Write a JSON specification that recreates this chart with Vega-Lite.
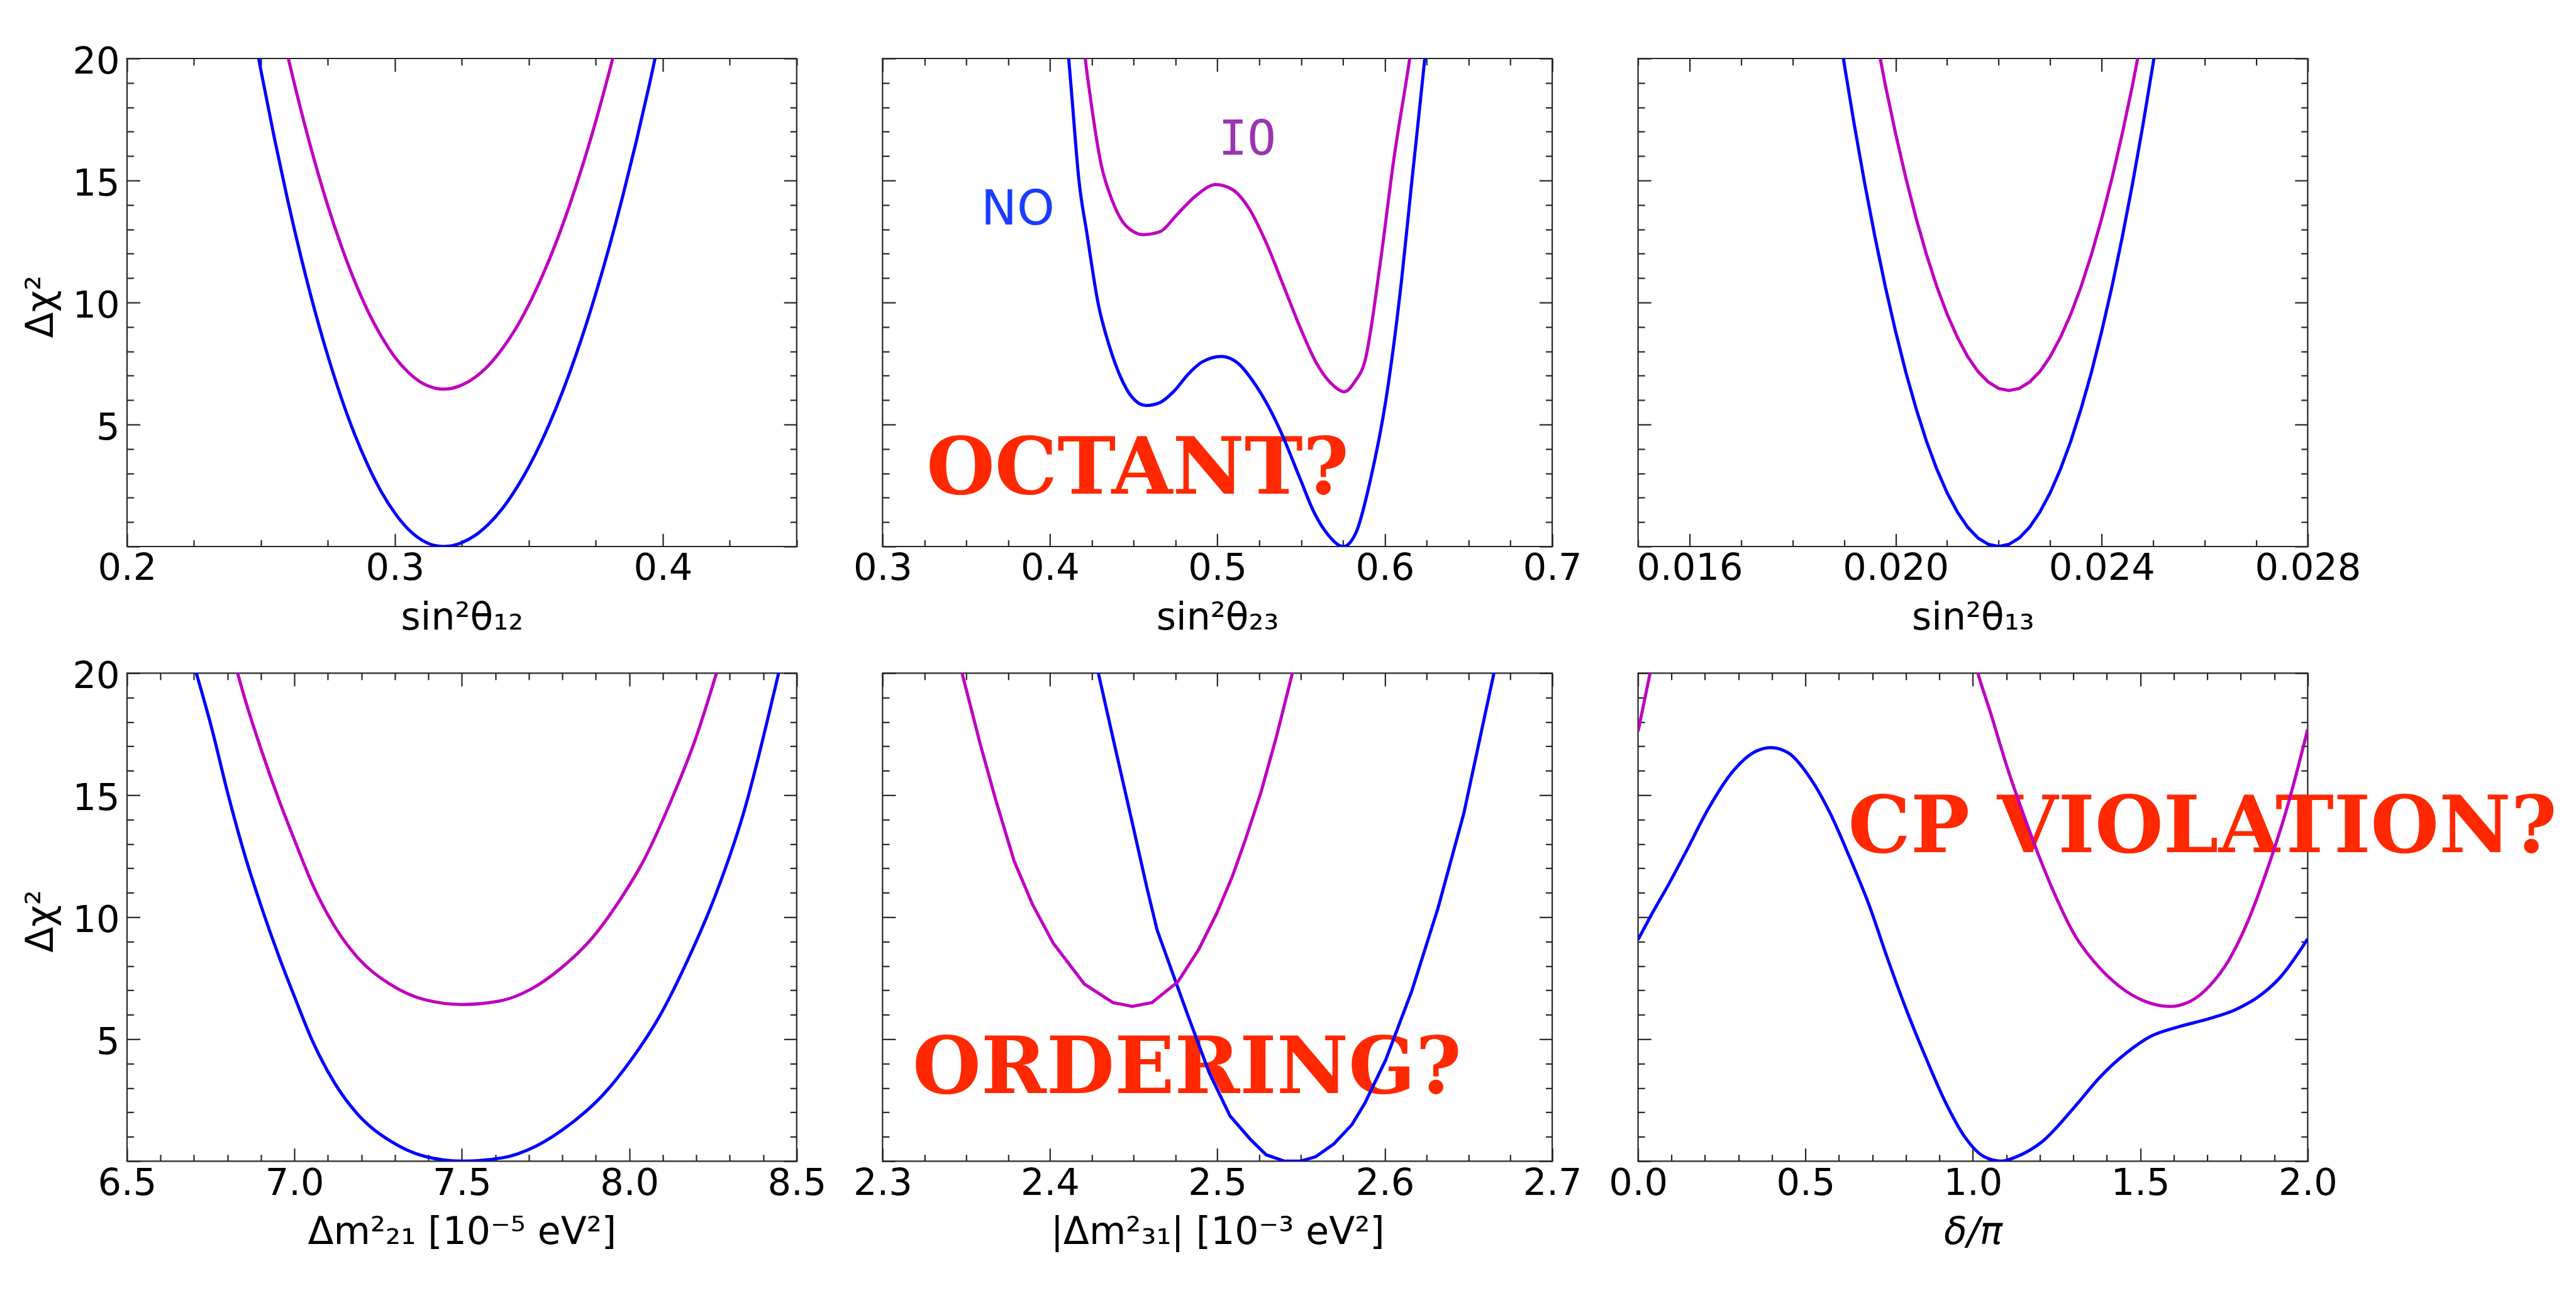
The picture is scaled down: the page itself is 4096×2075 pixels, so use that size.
{
"$schema": "https://vega.github.io/schema/vega-lite/v6.json",
"background": "#ffffff",
"padding": {"left": 33, "top": 67, "right": 0, "bottom": 0},
"datasets": {
"curves": [
{"p":"p1","o":"NO","x":0.245,"y":22.47},{"p":"p1","o":"NO","x":0.25,"y":19.5},{"p":"p1","o":"NO","x":0.255,"y":16.74},{"p":"p1","o":"NO","x":0.26,"y":14.18},{"p":"p1","o":"NO","x":0.265,"y":11.84},{"p":"p1","o":"NO","x":0.27,"y":9.71},{"p":"p1","o":"NO","x":0.275,"y":7.8},{"p":"p1","o":"NO","x":0.28,"y":6.09},{"p":"p1","o":"NO","x":0.285,"y":4.59},{"p":"p1","o":"NO","x":0.29,"y":3.31},{"p":"p1","o":"NO","x":0.295,"y":2.23},{"p":"p1","o":"NO","x":0.3,"y":1.37},{"p":"p1","o":"NO","x":0.305,"y":0.71},{"p":"p1","o":"NO","x":0.31,"y":0.27},{"p":"p1","o":"NO","x":0.315,"y":0.04},{"p":"p1","o":"NO","x":0.318,"y":0},{"p":"p1","o":"NO","x":0.32,"y":0.01},{"p":"p1","o":"NO","x":0.325,"y":0.16},{"p":"p1","o":"NO","x":0.33,"y":0.46},{"p":"p1","o":"NO","x":0.335,"y":0.92},{"p":"p1","o":"NO","x":0.34,"y":1.54},{"p":"p1","o":"NO","x":0.345,"y":2.33},{"p":"p1","o":"NO","x":0.35,"y":3.27},{"p":"p1","o":"NO","x":0.355,"y":4.37},{"p":"p1","o":"NO","x":0.36,"y":5.63},{"p":"p1","o":"NO","x":0.365,"y":7.05},{"p":"p1","o":"NO","x":0.37,"y":8.63},{"p":"p1","o":"NO","x":0.375,"y":10.37},{"p":"p1","o":"NO","x":0.38,"y":12.27},{"p":"p1","o":"NO","x":0.385,"y":14.33},{"p":"p1","o":"NO","x":0.39,"y":16.55},{"p":"p1","o":"NO","x":0.395,"y":18.93},{"p":"p1","o":"NO","x":0.4,"y":21.46},
{"p":"p1","o":"IO","x":0.255,"y":22.55},{"p":"p1","o":"IO","x":0.26,"y":20.1},{"p":"p1","o":"IO","x":0.265,"y":17.85},{"p":"p1","o":"IO","x":0.27,"y":15.8},{"p":"p1","o":"IO","x":0.275,"y":13.95},{"p":"p1","o":"IO","x":0.28,"y":12.31},{"p":"p1","o":"IO","x":0.285,"y":10.87},{"p":"p1","o":"IO","x":0.29,"y":9.63},{"p":"p1","o":"IO","x":0.295,"y":8.6},{"p":"p1","o":"IO","x":0.3,"y":7.76},{"p":"p1","o":"IO","x":0.305,"y":7.14},{"p":"p1","o":"IO","x":0.31,"y":6.71},{"p":"p1","o":"IO","x":0.315,"y":6.49},{"p":"p1","o":"IO","x":0.318,"y":6.45},{"p":"p1","o":"IO","x":0.32,"y":6.46},{"p":"p1","o":"IO","x":0.325,"y":6.62},{"p":"p1","o":"IO","x":0.33,"y":6.94},{"p":"p1","o":"IO","x":0.335,"y":7.43},{"p":"p1","o":"IO","x":0.34,"y":8.09},{"p":"p1","o":"IO","x":0.345,"y":8.91},{"p":"p1","o":"IO","x":0.35,"y":9.91},{"p":"p1","o":"IO","x":0.355,"y":11.08},{"p":"p1","o":"IO","x":0.36,"y":12.41},{"p":"p1","o":"IO","x":0.365,"y":13.92},{"p":"p1","o":"IO","x":0.37,"y":15.59},{"p":"p1","o":"IO","x":0.375,"y":17.43},{"p":"p1","o":"IO","x":0.38,"y":19.44},{"p":"p1","o":"IO","x":0.385,"y":21.62},
{"p":"p2","o":"NO","x":0.409,"y":21.5},{"p":"p2","o":"NO","x":0.4112,"y":20.0},{"p":"p2","o":"NO","x":0.413,"y":18.52},{"p":"p2","o":"NO","x":0.4172,"y":15.08},{"p":"p2","o":"NO","x":0.4222,"y":12.78},{"p":"p2","o":"NO","x":0.4289,"y":9.92},{"p":"p2","o":"NO","x":0.4356,"y":8.19},{"p":"p2","o":"NO","x":0.4423,"y":6.93},{"p":"p2","o":"NO","x":0.4489,"y":6.13},{"p":"p2","o":"NO","x":0.4573,"y":5.78},{"p":"p2","o":"NO","x":0.4657,"y":5.9},{"p":"p2","o":"NO","x":0.474,"y":6.36},{"p":"p2","o":"NO","x":0.4824,"y":7.05},{"p":"p2","o":"NO","x":0.4908,"y":7.56},{"p":"p2","o":"NO","x":0.5025,"y":7.79},{"p":"p2","o":"NO","x":0.5125,"y":7.5},{"p":"p2","o":"NO","x":0.5209,"y":6.81},{"p":"p2","o":"NO","x":0.5292,"y":5.9},{"p":"p2","o":"NO","x":0.5376,"y":4.75},{"p":"p2","o":"NO","x":0.5493,"y":2.8},{"p":"p2","o":"NO","x":0.5576,"y":1.42},{"p":"p2","o":"NO","x":0.5665,"y":0.45},{"p":"p2","o":"NO","x":0.5752,"y":0},{"p":"p2","o":"NO","x":0.583,"y":0.6},{"p":"p2","o":"NO","x":0.5913,"y":2.7},{"p":"p2","o":"NO","x":0.6006,"y":5.98},{"p":"p2","o":"NO","x":0.61,"y":10.9},{"p":"p2","o":"NO","x":0.6162,"y":15.0},{"p":"p2","o":"NO","x":0.6239,"y":20.0},{"p":"p2","o":"NO","x":0.626,"y":21.5},
{"p":"p2","o":"IO","x":0.419,"y":21.5},{"p":"p2","o":"IO","x":0.4211,"y":20.0},{"p":"p2","o":"IO","x":0.4239,"y":18.52},{"p":"p2","o":"IO","x":0.4306,"y":15.65},{"p":"p2","o":"IO","x":0.4373,"y":14.16},{"p":"p2","o":"IO","x":0.4456,"y":13.13},{"p":"p2","o":"IO","x":0.4557,"y":12.78},{"p":"p2","o":"IO","x":0.4657,"y":12.9},{"p":"p2","o":"IO","x":0.4757,"y":13.59},{"p":"p2","o":"IO","x":0.4874,"y":14.39},{"p":"p2","o":"IO","x":0.4991,"y":14.83},{"p":"p2","o":"IO","x":0.5092,"y":14.62},{"p":"p2","o":"IO","x":0.5192,"y":13.82},{"p":"p2","o":"IO","x":0.5292,"y":12.44},{"p":"p2","o":"IO","x":0.5393,"y":10.72},{"p":"p2","o":"IO","x":0.5493,"y":9.0},{"p":"p2","o":"IO","x":0.5593,"y":7.5},{"p":"p2","o":"IO","x":0.5694,"y":6.59},{"p":"p2","o":"IO","x":0.5758,"y":6.34},{"p":"p2","o":"IO","x":0.582,"y":6.75},{"p":"p2","o":"IO","x":0.5882,"y":7.62},{"p":"p2","o":"IO","x":0.5975,"y":11.72},{"p":"p2","o":"IO","x":0.6053,"y":15.82},{"p":"p2","o":"IO","x":0.6149,"y":20.0},{"p":"p2","o":"IO","x":0.617,"y":21.0},
{"p":"p3","o":"NO","x":0.0188,"y":22.54},{"p":"p3","o":"NO","x":0.019,"y":19.81},{"p":"p3","o":"NO","x":0.0192,"y":17.26},{"p":"p3","o":"NO","x":0.0194,"y":14.88},{"p":"p3","o":"NO","x":0.0196,"y":12.68},{"p":"p3","o":"NO","x":0.0198,"y":10.65},{"p":"p3","o":"NO","x":0.02,"y":8.81},{"p":"p3","o":"NO","x":0.0202,"y":7.13},{"p":"p3","o":"NO","x":0.0204,"y":5.64},{"p":"p3","o":"NO","x":0.0206,"y":4.31},{"p":"p3","o":"NO","x":0.0208,"y":3.17},{"p":"p3","o":"NO","x":0.021,"y":2.2},{"p":"p3","o":"NO","x":0.0212,"y":1.41},{"p":"p3","o":"NO","x":0.0214,"y":0.79},{"p":"p3","o":"NO","x":0.0216,"y":0.35},{"p":"p3","o":"NO","x":0.0218,"y":0.09},{"p":"p3","o":"NO","x":0.022,"y":0},{"p":"p3","o":"NO","x":0.0222,"y":0.09},{"p":"p3","o":"NO","x":0.0224,"y":0.35},{"p":"p3","o":"NO","x":0.0226,"y":0.79},{"p":"p3","o":"NO","x":0.0228,"y":1.41},{"p":"p3","o":"NO","x":0.023,"y":2.2},{"p":"p3","o":"NO","x":0.0232,"y":3.17},{"p":"p3","o":"NO","x":0.0234,"y":4.31},{"p":"p3","o":"NO","x":0.0236,"y":5.64},{"p":"p3","o":"NO","x":0.0238,"y":7.13},{"p":"p3","o":"NO","x":0.024,"y":8.81},{"p":"p3","o":"NO","x":0.0242,"y":10.65},{"p":"p3","o":"NO","x":0.0244,"y":12.68},{"p":"p3","o":"NO","x":0.0246,"y":14.88},{"p":"p3","o":"NO","x":0.0248,"y":17.26},{"p":"p3","o":"NO","x":0.025,"y":19.81},{"p":"p3","o":"NO","x":0.0252,"y":22.54},
{"p":"p3","o":"IO","x":0.0194,"y":23.44},{"p":"p3","o":"IO","x":0.0196,"y":21.1},{"p":"p3","o":"IO","x":0.0198,"y":18.92},{"p":"p3","o":"IO","x":0.02,"y":16.92},{"p":"p3","o":"IO","x":0.0202,"y":15.09},{"p":"p3","o":"IO","x":0.0204,"y":13.44},{"p":"p3","o":"IO","x":0.0206,"y":11.96},{"p":"p3","o":"IO","x":0.0208,"y":10.65},{"p":"p3","o":"IO","x":0.021,"y":9.52},{"p":"p3","o":"IO","x":0.0212,"y":8.57},{"p":"p3","o":"IO","x":0.0214,"y":7.78},{"p":"p3","o":"IO","x":0.0216,"y":7.17},{"p":"p3","o":"IO","x":0.0218,"y":6.74},{"p":"p3","o":"IO","x":0.022,"y":6.48},{"p":"p3","o":"IO","x":0.0222,"y":6.39},{"p":"p3","o":"IO","x":0.0224,"y":6.48},{"p":"p3","o":"IO","x":0.0226,"y":6.74},{"p":"p3","o":"IO","x":0.0228,"y":7.17},{"p":"p3","o":"IO","x":0.023,"y":7.78},{"p":"p3","o":"IO","x":0.0232,"y":8.57},{"p":"p3","o":"IO","x":0.0234,"y":9.52},{"p":"p3","o":"IO","x":0.0236,"y":10.65},{"p":"p3","o":"IO","x":0.0238,"y":11.96},{"p":"p3","o":"IO","x":0.024,"y":13.44},{"p":"p3","o":"IO","x":0.0242,"y":15.09},{"p":"p3","o":"IO","x":0.0244,"y":16.92},{"p":"p3","o":"IO","x":0.0246,"y":18.92},{"p":"p3","o":"IO","x":0.0248,"y":21.1},{"p":"p3","o":"IO","x":0.025,"y":23.44},
{"p":"p4","o":"NO","x":6.68,"y":21.3},{"p":"p4","o":"NO","x":6.707,"y":20.0},{"p":"p4","o":"NO","x":6.752,"y":17.79},{"p":"p4","o":"NO","x":6.803,"y":14.96},{"p":"p4","o":"NO","x":6.853,"y":12.48},{"p":"p4","o":"NO","x":6.903,"y":10.35},{"p":"p4","o":"NO","x":6.953,"y":8.41},{"p":"p4","o":"NO","x":7.003,"y":6.64},{"p":"p4","o":"NO","x":7.053,"y":4.95},{"p":"p4","o":"NO","x":7.12,"y":3.2},{"p":"p4","o":"NO","x":7.187,"y":1.95},{"p":"p4","o":"NO","x":7.287,"y":0.82},{"p":"p4","o":"NO","x":7.388,"y":0.2},{"p":"p4","o":"NO","x":7.5,"y":0},{"p":"p4","o":"NO","x":7.622,"y":0.14},{"p":"p4","o":"NO","x":7.722,"y":0.62},{"p":"p4","o":"NO","x":7.822,"y":1.5},{"p":"p4","o":"NO","x":7.923,"y":2.74},{"p":"p4","o":"NO","x":8.006,"y":4.16},{"p":"p4","o":"NO","x":8.09,"y":5.93},{"p":"p4","o":"NO","x":8.174,"y":8.23},{"p":"p4","o":"NO","x":8.257,"y":10.89},{"p":"p4","o":"NO","x":8.341,"y":14.25},{"p":"p4","o":"NO","x":8.446,"y":20.0},{"p":"p4","o":"NO","x":8.47,"y":21.4},
{"p":"p4","o":"IO","x":6.803,"y":21.38},{"p":"p4","o":"IO","x":6.853,"y":18.9},{"p":"p4","o":"IO","x":6.903,"y":16.77},{"p":"p4","o":"IO","x":6.953,"y":14.83},{"p":"p4","o":"IO","x":7.003,"y":13.06},{"p":"p4","o":"IO","x":7.053,"y":11.37},{"p":"p4","o":"IO","x":7.12,"y":9.62},{"p":"p4","o":"IO","x":7.187,"y":8.37},{"p":"p4","o":"IO","x":7.287,"y":7.24},{"p":"p4","o":"IO","x":7.388,"y":6.62},{"p":"p4","o":"IO","x":7.5,"y":6.42},{"p":"p4","o":"IO","x":7.612,"y":6.56},{"p":"p4","o":"IO","x":7.705,"y":7.04},{"p":"p4","o":"IO","x":7.797,"y":7.92},{"p":"p4","o":"IO","x":7.89,"y":9.16},{"p":"p4","o":"IO","x":7.966,"y":10.58},{"p":"p4","o":"IO","x":8.044,"y":12.35},{"p":"p4","o":"IO","x":8.121,"y":14.65},{"p":"p4","o":"IO","x":8.198,"y":17.31},{"p":"p4","o":"IO","x":8.275,"y":20.67},
{"p":"p5","o":"NO","x":2.424,"y":21.5},{"p":"p5","o":"NO","x":2.4289,"y":20.0},{"p":"p5","o":"NO","x":2.4391,"y":16.9},{"p":"p5","o":"NO","x":2.4485,"y":14.07},{"p":"p5","o":"NO","x":2.4578,"y":11.24},{"p":"p5","o":"NO","x":2.464,"y":9.47},{"p":"p5","o":"NO","x":2.4733,"y":7.7},{"p":"p5","o":"NO","x":2.4826,"y":5.93},{"p":"p5","o":"NO","x":2.4951,"y":3.63},{"p":"p5","o":"NO","x":2.5075,"y":1.86},{"p":"p5","o":"NO","x":2.5199,"y":0.88},{"p":"p5","o":"NO","x":2.5292,"y":0.26},{"p":"p5","o":"NO","x":2.5401,"y":0},{"p":"p5","o":"NO","x":2.5494,"y":0},{"p":"p5","o":"NO","x":2.5587,"y":0.18},{"p":"p5","o":"NO","x":2.5696,"y":0.71},{"p":"p5","o":"NO","x":2.5804,"y":1.5},{"p":"p5","o":"NO","x":2.5882,"y":2.39},{"p":"p5","o":"NO","x":2.6006,"y":4.16},{"p":"p5","o":"NO","x":2.6162,"y":6.99},{"p":"p5","o":"NO","x":2.6317,"y":10.35},{"p":"p5","o":"NO","x":2.6472,"y":14.25},{"p":"p5","o":"NO","x":2.6652,"y":20.0},{"p":"p5","o":"NO","x":2.67,"y":21.5},
{"p":"p5","o":"IO","x":2.342,"y":21.5},{"p":"p5","o":"IO","x":2.3475,"y":20.0},{"p":"p5","o":"IO","x":2.3584,"y":17.08},{"p":"p5","o":"IO","x":2.3677,"y":14.78},{"p":"p5","o":"IO","x":2.3786,"y":12.3},{"p":"p5","o":"IO","x":2.3895,"y":10.53},{"p":"p5","o":"IO","x":2.4019,"y":8.94},{"p":"p5","o":"IO","x":2.4205,"y":7.26},{"p":"p5","o":"IO","x":2.4376,"y":6.5},{"p":"p5","o":"IO","x":2.4491,"y":6.34},{"p":"p5","o":"IO","x":2.4609,"y":6.5},{"p":"p5","o":"IO","x":2.4764,"y":7.35},{"p":"p5","o":"IO","x":2.4888,"y":8.67},{"p":"p5","o":"IO","x":2.4997,"y":10.17},{"p":"p5","o":"IO","x":2.509,"y":11.68},{"p":"p5","o":"IO","x":2.5168,"y":13.19},{"p":"p5","o":"IO","x":2.5261,"y":15.13},{"p":"p5","o":"IO","x":2.5354,"y":17.43},{"p":"p5","o":"IO","x":2.5448,"y":20.0},{"p":"p5","o":"IO","x":2.55,"y":21.5},
{"p":"p6","o":"NO","x":0,"y":9.08},{"p":"p6","o":"NO","x":0.036,"y":10.0},{"p":"p6","o":"NO","x":0.094,"y":11.41},{"p":"p6","o":"NO","x":0.142,"y":12.65},{"p":"p6","o":"NO","x":0.209,"y":14.42},{"p":"p6","o":"NO","x":0.286,"y":16.02},{"p":"p6","o":"NO","x":0.343,"y":16.73},{"p":"p6","o":"NO","x":0.397,"y":16.95},{"p":"p6","o":"NO","x":0.449,"y":16.73},{"p":"p6","o":"NO","x":0.516,"y":15.66},{"p":"p6","o":"NO","x":0.574,"y":14.25},{"p":"p6","o":"NO","x":0.631,"y":12.48},{"p":"p6","o":"NO","x":0.689,"y":10.53},{"p":"p6","o":"NO","x":0.747,"y":8.23},{"p":"p6","o":"NO","x":0.804,"y":6.11},{"p":"p6","o":"NO","x":0.862,"y":4.16},{"p":"p6","o":"NO","x":0.919,"y":2.39},{"p":"p6","o":"NO","x":0.977,"y":0.97},{"p":"p6","o":"NO","x":1.034,"y":0.18},{"p":"p6","o":"NO","x":1.085,"y":0},{"p":"p6","o":"NO","x":1.13,"y":0.18},{"p":"p6","o":"NO","x":1.207,"y":0.8},{"p":"p6","o":"NO","x":1.303,"y":2.21},{"p":"p6","o":"NO","x":1.38,"y":3.45},{"p":"p6","o":"NO","x":1.457,"y":4.42},{"p":"p6","o":"NO","x":1.533,"y":5.13},{"p":"p6","o":"NO","x":1.61,"y":5.49},{"p":"p6","o":"NO","x":1.706,"y":5.84},{"p":"p6","o":"NO","x":1.783,"y":6.2},{"p":"p6","o":"NO","x":1.86,"y":6.81},{"p":"p6","o":"NO","x":1.917,"y":7.52},{"p":"p6","o":"NO","x":2.0,"y":9.11},
{"p":"p6","o":"IO","x":0,"y":17.61},{"p":"p6","o":"IO","x":0.036,"y":20.0},{"p":"p6","o":"IO","x":0.06,"y":21.6},{"p":"p6","o":"IO","x":0.99,"y":21.3},{"p":"p6","o":"IO","x":1.015,"y":20.0},{"p":"p6","o":"IO","x":1.054,"y":18.32},{"p":"p6","o":"IO","x":1.101,"y":16.2},{"p":"p6","o":"IO","x":1.15,"y":14.25},{"p":"p6","o":"IO","x":1.198,"y":12.48},{"p":"p6","o":"IO","x":1.246,"y":10.89},{"p":"p6","o":"IO","x":1.303,"y":9.29},{"p":"p6","o":"IO","x":1.37,"y":8.05},{"p":"p6","o":"IO","x":1.437,"y":7.17},{"p":"p6","o":"IO","x":1.514,"y":6.55},{"p":"p6","o":"IO","x":1.587,"y":6.34},{"p":"p6","o":"IO","x":1.649,"y":6.55},{"p":"p6","o":"IO","x":1.706,"y":7.17},{"p":"p6","o":"IO","x":1.764,"y":8.23},{"p":"p6","o":"IO","x":1.821,"y":9.82},{"p":"p6","o":"IO","x":1.879,"y":11.95},{"p":"p6","o":"IO","x":1.937,"y":14.42},{"p":"p6","o":"IO","x":2.0,"y":17.7}
],
"notes": [
{"k":"NO","t":"NO","x":0.3808,"y":13.19},
{"k":"IO","t":"IO","x":0.5179,"y":16.05},
{"k":"OCT","t":"OCTANT?","x":0.4524,"y":2.17},
{"k":"ORD","t":"ORDERING?","x":2.4819,"y":2.78},
{"k":"CP","t":"CP VIOLATION?","x":1.6858,"y":12.65}
]
},
"columns": 3,
"spacing": {"row": 201.3, "column": 136.3},
"bounds": "flush",
"concat": [
{
"width": 1064.8, "height": 776,
"layer": [
{"data": {"name": "curves"}, "transform": [{"filter": "datum.p === 'p1'"}],
 "mark": {"type": "line", "strokeWidth": 5, "clip": true, "interpolate": "monotone"},
 "encoding": {
  "x": {"field": "x", "type": "quantitative", "scale": {"domain": [0.2, 0.45], "nice": false, "zero": false},
   "axis": {"orient": "bottom", "values": [0.2,0.225,0.25,0.275,0.3,0.325,0.35,0.375,0.4,0.425,0.45], "format": ".1f",
    "labelExpr": "abs(datum.value*10 - round(datum.value*10)) < 1e-6 ? datum.label : ''",
    "tickSize": {"condition": {"test": "abs(datum.value*10 - round(datum.value*10)) < 1e-6", "value": -20.6}, "value": -10.6},
    "labelPadding": 26.5, "title": "sin²θ₁₂", "titleY": 131, "titleBaseline": "alphabetic"}},
  "y": {"field": "y", "type": "quantitative", "scale": {"domain": [0, 20], "nice": false},
   "axis": {"orient": "left", "values": [0,1,2,3,4,5,6,7,8,9,10,11,12,13,14,15,16,17,18,19,20], "format": "d",
    "labelExpr": "datum.value % 5 === 0 && datum.value > 0 ? datum.label : ''",
    "tickSize": {"condition": {"test": "datum.value % 5 === 0", "value": -20.6}, "value": -10.6},
    "labelPadding": 32.6, "labelOffset": 5, "title": "Δχ²", "titleX": -106, "titleY": 394, "titleAlign": "center", "titleBaseline": "bottom"}},
  "color": {"field": "o", "type": "nominal", "scale": {"domain": ["NO","IO"], "range": ["#0000ff","#bf00bf"]}, "legend": null}
 }},
{"data": {"name": "curves"}, "transform": [{"filter": "datum.p === 'p1'"}],
 "mark": {"type": "line", "opacity": 0, "clip": true},
 "encoding": {
  "x": {"field": "x", "type": "quantitative", "scale": {"domain": [0.2, 0.45], "nice": false, "zero": false},
   "axis": {"orient": "top", "values": [0.2,0.225,0.25,0.275,0.3,0.325,0.35,0.375,0.4,0.425,0.45], "labels": false, "title": null,
    "tickSize": {"condition": {"test": "abs(datum.value*10 - round(datum.value*10)) < 1e-6", "value": -20.6}, "value": -10.6}}},
  "y": {"field": "y", "type": "quantitative", "scale": {"domain": [0, 20], "nice": false},
   "axis": {"orient": "right", "values": [0,1,2,3,4,5,6,7,8,9,10,11,12,13,14,15,16,17,18,19,20], "labels": false, "title": null,
    "tickSize": {"condition": {"test": "datum.value % 5 === 0", "value": -20.6}, "value": -10.6}}},
  "detail": {"field": "o"}
 }}
],
"resolve": {"axis": {"x": "independent", "y": "independent"}}
},
{
"width": 1064.8, "height": 776,
"layer": [
{"data": {"name": "notes"}, "transform": [{"filter": "datum.k === 'OCT'"}],
 "mark": {"type": "text", "font": "DejaVu Serif", "fontWeight": "bold", "fontSize": 125, "color": "#ff2800", "align": "center", "baseline": "alphabetic"},
 "encoding": {
  "x": {"field": "x", "type": "quantitative", "scale": {"domain": [0.3, 0.7], "nice": false, "zero": false}, "axis": null},
  "y": {"field": "y", "type": "quantitative", "scale": {"domain": [0, 20], "nice": false}, "axis": null},
  "text": {"field": "t"}}},
{"data": {"name": "notes"}, "transform": [{"filter": "datum.k === 'NO'"}],
 "mark": {"type": "text", "font": "DejaVu Sans", "fontSize": 76, "color": "#1a3cff", "align": "center", "baseline": "alphabetic"},
 "encoding": {
  "x": {"field": "x", "type": "quantitative", "scale": {"domain": [0.3, 0.7], "nice": false, "zero": false}, "axis": null},
  "y": {"field": "y", "type": "quantitative", "scale": {"domain": [0, 20], "nice": false}, "axis": null},
  "text": {"field": "t"}}},
{"data": {"name": "notes"}, "transform": [{"filter": "datum.k === 'IO'"}],
 "mark": {"type": "text", "font": "DejaVu Sans Mono", "fontSize": 76, "color": "#9a35b2", "align": "center", "baseline": "alphabetic"},
 "encoding": {
  "x": {"field": "x", "type": "quantitative", "scale": {"domain": [0.3, 0.7], "nice": false, "zero": false}, "axis": null},
  "y": {"field": "y", "type": "quantitative", "scale": {"domain": [0, 20], "nice": false}, "axis": null},
  "text": {"field": "t"}}},
{"data": {"name": "curves"}, "transform": [{"filter": "datum.p === 'p2'"}],
 "mark": {"type": "line", "strokeWidth": 5, "clip": true, "interpolate": "monotone"},
 "encoding": {
  "x": {"field": "x", "type": "quantitative", "scale": {"domain": [0.3, 0.7], "nice": false, "zero": false},
   "axis": {"orient": "bottom", "values": [0.3,0.325,0.35,0.375,0.4,0.425,0.45,0.475,0.5,0.525,0.55,0.575,0.6,0.625,0.65,0.675,0.7], "format": ".1f",
    "labelExpr": "abs(datum.value*10 - round(datum.value*10)) < 1e-6 ? datum.label : ''",
    "tickSize": {"condition": {"test": "abs(datum.value*10 - round(datum.value*10)) < 1e-6", "value": -20.6}, "value": -10.6},
    "labelPadding": 26.5, "title": "sin²θ₂₃", "titleY": 131, "titleBaseline": "alphabetic"}},
  "y": {"field": "y", "type": "quantitative", "scale": {"domain": [0, 20], "nice": false},
   "axis": {"orient": "left", "values": [0,1,2,3,4,5,6,7,8,9,10,11,12,13,14,15,16,17,18,19,20], "labels": false, "title": null,
    "tickSize": {"condition": {"test": "datum.value % 5 === 0", "value": -20.6}, "value": -10.6}}},
  "color": {"field": "o", "type": "nominal", "scale": {"domain": ["NO","IO"], "range": ["#0000ff","#bf00bf"]}, "legend": null}
 }},
{"data": {"name": "curves"}, "transform": [{"filter": "datum.p === 'p2'"}],
 "mark": {"type": "line", "opacity": 0, "clip": true},
 "encoding": {
  "x": {"field": "x", "type": "quantitative", "scale": {"domain": [0.3, 0.7], "nice": false, "zero": false},
   "axis": {"orient": "top", "values": [0.3,0.325,0.35,0.375,0.4,0.425,0.45,0.475,0.5,0.525,0.55,0.575,0.6,0.625,0.65,0.675,0.7], "labels": false, "title": null,
    "tickSize": {"condition": {"test": "abs(datum.value*10 - round(datum.value*10)) < 1e-6", "value": -20.6}, "value": -10.6}}},
  "y": {"field": "y", "type": "quantitative", "scale": {"domain": [0, 20], "nice": false},
   "axis": {"orient": "right", "values": [0,1,2,3,4,5,6,7,8,9,10,11,12,13,14,15,16,17,18,19,20], "labels": false, "title": null,
    "tickSize": {"condition": {"test": "datum.value % 5 === 0", "value": -20.6}, "value": -10.6}}},
  "detail": {"field": "o"}
 }}
],
"resolve": {"axis": {"x": "independent", "y": "independent"}}
},
{
"width": 1064.8, "height": 776,
"layer": [
{"data": {"name": "curves"}, "transform": [{"filter": "datum.p === 'p3'"}],
 "mark": {"type": "line", "strokeWidth": 5, "clip": true},
 "encoding": {
  "x": {"field": "x", "type": "quantitative", "scale": {"domain": [0.015, 0.028], "nice": false, "zero": false},
   "axis": {"orient": "bottom", "values": [0.015,0.016,0.017,0.018,0.019,0.02,0.021,0.022,0.023,0.024,0.025,0.026,0.027,0.028], "format": ".3f",
    "labelExpr": "abs(datum.value*250 - round(datum.value*250)) < 1e-6 ? datum.label : ''",
    "tickSize": {"condition": {"test": "abs(datum.value*250 - round(datum.value*250)) < 1e-6", "value": -20.6}, "value": -10.6},
    "labelPadding": 26.5, "title": "sin²θ₁₃", "titleY": 131, "titleBaseline": "alphabetic"}},
  "y": {"field": "y", "type": "quantitative", "scale": {"domain": [0, 20], "nice": false},
   "axis": {"orient": "left", "values": [0,1,2,3,4,5,6,7,8,9,10,11,12,13,14,15,16,17,18,19,20], "labels": false, "title": null,
    "tickSize": {"condition": {"test": "datum.value % 5 === 0", "value": -20.6}, "value": -10.6}}},
  "color": {"field": "o", "type": "nominal", "scale": {"domain": ["NO","IO"], "range": ["#0000ff","#bf00bf"]}, "legend": null}
 }},
{"data": {"name": "curves"}, "transform": [{"filter": "datum.p === 'p3'"}],
 "mark": {"type": "line", "opacity": 0, "clip": true},
 "encoding": {
  "x": {"field": "x", "type": "quantitative", "scale": {"domain": [0.015, 0.028], "nice": false, "zero": false},
   "axis": {"orient": "top", "values": [0.015,0.016,0.017,0.018,0.019,0.02,0.021,0.022,0.023,0.024,0.025,0.026,0.027,0.028], "labels": false, "title": null,
    "tickSize": {"condition": {"test": "abs(datum.value*250 - round(datum.value*250)) < 1e-6", "value": -20.6}, "value": -10.6}}},
  "y": {"field": "y", "type": "quantitative", "scale": {"domain": [0, 20], "nice": false},
   "axis": {"orient": "right", "values": [0,1,2,3,4,5,6,7,8,9,10,11,12,13,14,15,16,17,18,19,20], "labels": false, "title": null,
    "tickSize": {"condition": {"test": "datum.value % 5 === 0", "value": -20.6}, "value": -10.6}}},
  "detail": {"field": "o"}
 }}
],
"resolve": {"axis": {"x": "independent", "y": "independent"}}
},
{
"width": 1064.8, "height": 776,
"layer": [
{"data": {"name": "curves"}, "transform": [{"filter": "datum.p === 'p4'"}],
 "mark": {"type": "line", "strokeWidth": 5, "clip": true, "interpolate": "monotone"},
 "encoding": {
  "x": {"field": "x", "type": "quantitative", "scale": {"domain": [6.5, 8.5], "nice": false, "zero": false},
   "axis": {"orient": "bottom", "values": [6.5,6.6,6.7,6.8,6.9,7.0,7.1,7.2,7.3,7.4,7.5,7.6,7.7,7.8,7.9,8.0,8.1,8.2,8.3,8.4,8.5], "format": ".1f",
    "labelExpr": "abs(datum.value*2 - round(datum.value*2)) < 1e-6 ? datum.label : ''",
    "tickSize": {"condition": {"test": "abs(datum.value*2 - round(datum.value*2)) < 1e-6", "value": -20.6}, "value": -10.6},
    "labelPadding": 26.5, "title": "Δm²₂₁ [10⁻⁵ eV²]", "titleY": 131, "titleBaseline": "alphabetic"}},
  "y": {"field": "y", "type": "quantitative", "scale": {"domain": [0, 20], "nice": false},
   "axis": {"orient": "left", "values": [0,1,2,3,4,5,6,7,8,9,10,11,12,13,14,15,16,17,18,19,20], "format": "d",
    "labelExpr": "datum.value % 5 === 0 && datum.value > 0 ? datum.label : ''",
    "tickSize": {"condition": {"test": "datum.value % 5 === 0", "value": -20.6}, "value": -10.6},
    "labelPadding": 32.6, "labelOffset": 5, "title": "Δχ²", "titleX": -106, "titleY": 394, "titleAlign": "center", "titleBaseline": "bottom"}},
  "color": {"field": "o", "type": "nominal", "scale": {"domain": ["NO","IO"], "range": ["#0000ff","#bf00bf"]}, "legend": null}
 }},
{"data": {"name": "curves"}, "transform": [{"filter": "datum.p === 'p4'"}],
 "mark": {"type": "line", "opacity": 0, "clip": true},
 "encoding": {
  "x": {"field": "x", "type": "quantitative", "scale": {"domain": [6.5, 8.5], "nice": false, "zero": false},
   "axis": {"orient": "top", "values": [6.5,6.6,6.7,6.8,6.9,7.0,7.1,7.2,7.3,7.4,7.5,7.6,7.7,7.8,7.9,8.0,8.1,8.2,8.3,8.4,8.5], "labels": false, "title": null,
    "tickSize": {"condition": {"test": "abs(datum.value*2 - round(datum.value*2)) < 1e-6", "value": -20.6}, "value": -10.6}}},
  "y": {"field": "y", "type": "quantitative", "scale": {"domain": [0, 20], "nice": false},
   "axis": {"orient": "right", "values": [0,1,2,3,4,5,6,7,8,9,10,11,12,13,14,15,16,17,18,19,20], "labels": false, "title": null,
    "tickSize": {"condition": {"test": "datum.value % 5 === 0", "value": -20.6}, "value": -10.6}}},
  "detail": {"field": "o"}
 }}
],
"resolve": {"axis": {"x": "independent", "y": "independent"}}
},
{
"width": 1064.8, "height": 776,
"layer": [
{"data": {"name": "notes"}, "transform": [{"filter": "datum.k === 'ORD'"}],
 "mark": {"type": "text", "font": "DejaVu Serif", "fontWeight": "bold", "fontSize": 125, "color": "#ff2800", "align": "center", "baseline": "alphabetic"},
 "encoding": {
  "x": {"field": "x", "type": "quantitative", "scale": {"domain": [2.3, 2.7], "nice": false, "zero": false}, "axis": null},
  "y": {"field": "y", "type": "quantitative", "scale": {"domain": [0, 20], "nice": false}, "axis": null},
  "text": {"field": "t"}}},
{"data": {"name": "curves"}, "transform": [{"filter": "datum.p === 'p5'"}],
 "mark": {"type": "line", "strokeWidth": 5, "clip": true},
 "encoding": {
  "x": {"field": "x", "type": "quantitative", "scale": {"domain": [2.3, 2.7], "nice": false, "zero": false},
   "axis": {"orient": "bottom", "values": [2.3,2.325,2.35,2.375,2.4,2.425,2.45,2.475,2.5,2.525,2.55,2.575,2.6,2.625,2.65,2.675,2.7], "format": ".1f",
    "labelExpr": "abs(datum.value*10 - round(datum.value*10)) < 1e-6 ? datum.label : ''",
    "tickSize": {"condition": {"test": "abs(datum.value*10 - round(datum.value*10)) < 1e-6", "value": -20.6}, "value": -10.6},
    "labelPadding": 26.5, "title": "|Δm²₃₁| [10⁻³ eV²]", "titleY": 131, "titleBaseline": "alphabetic"}},
  "y": {"field": "y", "type": "quantitative", "scale": {"domain": [0, 20], "nice": false},
   "axis": {"orient": "left", "values": [0,1,2,3,4,5,6,7,8,9,10,11,12,13,14,15,16,17,18,19,20], "labels": false, "title": null,
    "tickSize": {"condition": {"test": "datum.value % 5 === 0", "value": -20.6}, "value": -10.6}}},
  "color": {"field": "o", "type": "nominal", "scale": {"domain": ["NO","IO"], "range": ["#0000ff","#bf00bf"]}, "legend": null}
 }},
{"data": {"name": "curves"}, "transform": [{"filter": "datum.p === 'p5'"}],
 "mark": {"type": "line", "opacity": 0, "clip": true},
 "encoding": {
  "x": {"field": "x", "type": "quantitative", "scale": {"domain": [2.3, 2.7], "nice": false, "zero": false},
   "axis": {"orient": "top", "values": [2.3,2.325,2.35,2.375,2.4,2.425,2.45,2.475,2.5,2.525,2.55,2.575,2.6,2.625,2.65,2.675,2.7], "labels": false, "title": null,
    "tickSize": {"condition": {"test": "abs(datum.value*10 - round(datum.value*10)) < 1e-6", "value": -20.6}, "value": -10.6}}},
  "y": {"field": "y", "type": "quantitative", "scale": {"domain": [0, 20], "nice": false},
   "axis": {"orient": "right", "values": [0,1,2,3,4,5,6,7,8,9,10,11,12,13,14,15,16,17,18,19,20], "labels": false, "title": null,
    "tickSize": {"condition": {"test": "datum.value % 5 === 0", "value": -20.6}, "value": -10.6}}},
  "detail": {"field": "o"}
 }}
],
"resolve": {"axis": {"x": "independent", "y": "independent"}}
},
{
"width": 1064.8, "height": 776,
"layer": [
{"data": {"name": "notes"}, "transform": [{"filter": "datum.k === 'CP'"}],
 "mark": {"type": "text", "font": "DejaVu Serif", "fontWeight": "bold", "fontSize": 125, "color": "#ff2800", "align": "center", "baseline": "alphabetic"},
 "encoding": {
  "x": {"field": "x", "type": "quantitative", "scale": {"domain": [0, 2], "nice": false, "zero": false}, "axis": null},
  "y": {"field": "y", "type": "quantitative", "scale": {"domain": [0, 20], "nice": false}, "axis": null},
  "text": {"field": "t"}}},
{"data": {"name": "curves"}, "transform": [{"filter": "datum.p === 'p6'"}],
 "mark": {"type": "line", "strokeWidth": 5, "clip": true, "interpolate": "monotone"},
 "encoding": {
  "x": {"field": "x", "type": "quantitative", "scale": {"domain": [0, 2], "nice": false, "zero": false},
   "axis": {"orient": "bottom", "values": [0,0.1,0.2,0.3,0.4,0.5,0.6,0.7,0.8,0.9,1.0,1.1,1.2,1.3,1.4,1.5,1.6,1.7,1.8,1.9,2.0], "format": ".1f",
    "labelExpr": "abs(datum.value*2 - round(datum.value*2)) < 1e-6 ? datum.label : ''",
    "tickSize": {"condition": {"test": "abs(datum.value*2 - round(datum.value*2)) < 1e-6", "value": -20.6}, "value": -10.6},
    "labelPadding": 26.5, "title": "δ/π", "titleFontStyle": "italic", "titleY": 131, "titleBaseline": "alphabetic"}},
  "y": {"field": "y", "type": "quantitative", "scale": {"domain": [0, 20], "nice": false},
   "axis": {"orient": "left", "values": [0,1,2,3,4,5,6,7,8,9,10,11,12,13,14,15,16,17,18,19,20], "labels": false, "title": null,
    "tickSize": {"condition": {"test": "datum.value % 5 === 0", "value": -20.6}, "value": -10.6}}},
  "color": {"field": "o", "type": "nominal", "scale": {"domain": ["NO","IO"], "range": ["#0000ff","#bf00bf"]}, "legend": null}
 }},
{"data": {"name": "curves"}, "transform": [{"filter": "datum.p === 'p6'"}],
 "mark": {"type": "line", "opacity": 0, "clip": true},
 "encoding": {
  "x": {"field": "x", "type": "quantitative", "scale": {"domain": [0, 2], "nice": false, "zero": false},
   "axis": {"orient": "top", "values": [0,0.1,0.2,0.3,0.4,0.5,0.6,0.7,0.8,0.9,1.0,1.1,1.2,1.3,1.4,1.5,1.6,1.7,1.8,1.9,2.0], "labels": false, "title": null,
    "tickSize": {"condition": {"test": "abs(datum.value*2 - round(datum.value*2)) < 1e-6", "value": -20.6}, "value": -10.6}}},
  "y": {"field": "y", "type": "quantitative", "scale": {"domain": [0, 20], "nice": false},
   "axis": {"orient": "right", "values": [0,1,2,3,4,5,6,7,8,9,10,11,12,13,14,15,16,17,18,19,20], "labels": false, "title": null,
    "tickSize": {"condition": {"test": "datum.value % 5 === 0", "value": -20.6}, "value": -10.6}}},
  "detail": {"field": "o"}
 }}
],
"resolve": {"axis": {"x": "independent", "y": "independent"}}
}
],
"config": {
 "view": {"stroke": "#262626", "strokeWidth": 2.2},
 "axis": {"domain": false, "grid": false, "tickColor": "#262626", "tickWidth": 2.2,
  "labelFont": "DejaVu Sans", "labelFontSize": 59, "labelColor": "#000000", "labelFlush": false, "labelOverlap": false,
  "titleFont": "DejaVu Sans", "titleFontSize": 60, "titleFontWeight": "normal", "titleColor": "#000000"}
}
}
